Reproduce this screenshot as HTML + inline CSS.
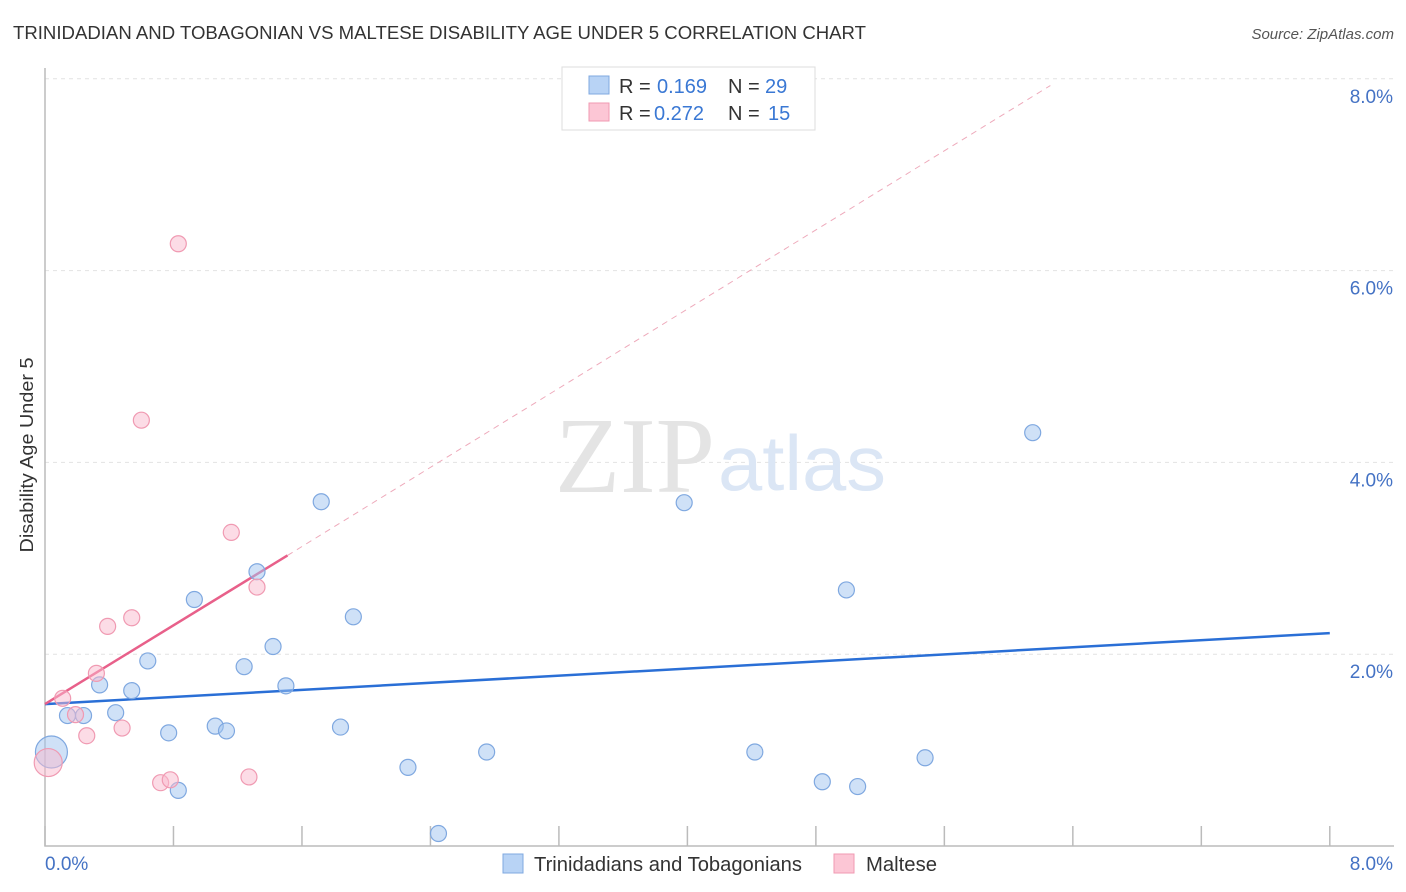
<!DOCTYPE html>
<html><head><meta charset="utf-8"><style>
body{margin:0;background:#fff;font-family:"Liberation Sans",sans-serif;}
svg{display:block}
</style></head><body>
<svg id="c" width="1406" height="892">
<text x="13" y="39" font-size="18" fill="#333" textLength="853" lengthAdjust="spacingAndGlyphs">TRINIDADIAN AND TOBAGONIAN VS MALTESE DISABILITY AGE UNDER 5 CORRELATION CHART</text>
<text x="1394" y="39" font-size="15" fill="#555" font-style="italic" text-anchor="end">Source: ZipAtlas.com</text>
<g id="grid"></g>
<text x="635" y="492" font-size="108" fill="#e4e4e4" text-anchor="middle" font-family="Liberation Serif,serif" textLength="160" lengthAdjust="spacingAndGlyphs">ZIP</text>
<text x="802" y="490" font-size="78" fill="#dbe6f5" text-anchor="middle" textLength="168" lengthAdjust="spacingAndGlyphs">atlas</text>
<g id="trend"></g>
<g id="pts"></g>
<text x="33" y="455" font-size="18" fill="#333" text-anchor="middle" textLength="195" lengthAdjust="spacingAndGlyphs" transform="rotate(-90 33 455)">Disability Age Under 5</text>
<text x="45" y="870" font-size="19" fill="#4472c4">0.0%</text>
<text x="1393" y="870" font-size="19" fill="#4472c4" text-anchor="end">8.0%</text>
<g>
<rect x="562" y="67" width="253" height="63" fill="#fff" stroke="#ddd"/>
<rect x="589" y="76" width="20" height="18" fill="#b8d3f5" stroke="#7fa8e0"/>
<rect x="589" y="103" width="20" height="18" fill="#fcc6d5" stroke="#f09ab2"/>
<text x="619" y="93" font-size="20" fill="#333">R = <tspan x="657" fill="#3a78d4">0.169</tspan></text>
<text x="728" y="93" font-size="20" fill="#333">N = <tspan x="765" fill="#3a78d4">29</tspan></text>
<text x="619" y="120" font-size="20" fill="#333">R = <tspan x="654" fill="#3a78d4">0.272</tspan></text>
<text x="728" y="120" font-size="20" fill="#333">N = <tspan x="768" fill="#3a78d4">15</tspan></text>
</g>
<g>
<rect x="503" y="854" width="20" height="19" fill="#b8d3f5" stroke="#7fa8e0"/>
<text x="534" y="871" font-size="20" fill="#333" textLength="268" lengthAdjust="spacingAndGlyphs">Trinidadians and Tobagonians</text>
<rect x="834" y="854" width="20" height="19" fill="#fcc6d5" stroke="#f09ab2"/>
<text x="866" y="871" font-size="20" fill="#333" textLength="71" lengthAdjust="spacingAndGlyphs">Maltese</text>
</g>
</svg>
<script>
const yTicks=[2,4,6,8];
const yTickLabels=["2.0%","4.0%","6.0%","8.0%"];
const xTicks=[0,0.8,1.6,2.4,3.2,4,4.8,5.6,6.4,7.2,8];
const blueX=[0.04,0.14,0.24,0.34,0.44,0.54,0.64,0.77,0.83,0.93,1.06,1.13,1.24,1.32,1.42,1.50,1.72,1.84,1.92,2.26,2.45,2.75,3.98,4.42,4.84,4.99,5.06,5.48,6.15];
const blueY=[0.98,1.36,1.36,1.68,1.39,1.62,1.93,1.18,0.58,2.57,1.25,1.20,1.87,2.86,2.08,1.67,3.59,1.24,2.39,0.82,0.13,0.98,3.58,0.98,0.67,2.67,0.62,0.92,4.31];
const pinkX=[0.02,0.11,0.19,0.26,0.32,0.39,0.48,0.54,0.60,0.72,0.78,0.83,1.16,1.27,1.32];
const pinkY=[0.87,1.54,1.37,1.15,1.80,2.29,1.23,2.38,4.44,0.66,0.69,6.28,3.27,0.72,2.70];
const blueTrend=[[0,1.48],[8,2.22]];
const pinkTrend=[[0,1.48],[1.51,3.03]];
const pinkDash=[[1.51,3.03],[6.26,7.93]];
const X=v=>45+v*160.6, Y=v=>846-v*95.9;
const NS="http://www.w3.org/2000/svg";
function mk(t,a,p){const e=document.createElementNS(NS,t);for(const k in a)e.setAttribute(k,a[k]);p.appendChild(e);return e;}
const grid=document.getElementById('grid');
yTicks.forEach((v,i)=>{
 const l=mk('line',{x1:45,x2:1394,y1:Y(v),y2:Y(v),stroke:'#e2e2e2','stroke-dasharray':'4,4'},grid);
 
 
 const t=mk('text',{x:1393,y:Y(v)+24,'font-size':19,fill:'#4472c4','text-anchor':'end'},grid);
 t.textContent=yTickLabels[i];
 
 
});
const ax=mk('path',{d:`M45 68V846H1394`,stroke:'#bbb',fill:'none','stroke-width':1.5},grid);


xTicks.forEach(v=>{
 const l=mk('line',{x1:X(v),x2:X(v),y1:826,y2:846,stroke:'#bbb','stroke-width':1.5},grid);
 
 
});
const tr=document.getElementById('trend');
let a=mk('line',{x1:X(blueTrend[0][0]),y1:Y(blueTrend[0][1]),x2:X(blueTrend[1][0]),y2:Y(blueTrend[1][1]),stroke:'#2a6fd6','stroke-width':2.5},tr);


a=mk('line',{x1:X(pinkDash[0][0]),y1:Y(pinkDash[0][1]),x2:X(pinkDash[1][0]),y2:Y(pinkDash[1][1]),stroke:'#eeaabb','stroke-width':1,'stroke-dasharray':'6,5'},tr);


a=mk('line',{x1:X(pinkTrend[0][0]),y1:Y(pinkTrend[0][1]),x2:X(pinkTrend[1][0]),y2:Y(pinkTrend[1][1]),stroke:'#e8608a','stroke-width':2.5},tr);


const pts=document.getElementById('pts');
blueX.forEach((x,i)=>{
 const c=mk('circle',{cx:X(x),cy:Y(blueY[i]),r:i===0?16:8,fill:'rgba(160,195,240,0.5)',stroke:'#7fa8e0','stroke-width':1.2},pts);
 
 
});
pinkX.forEach((x,i)=>{
 const c=mk('circle',{cx:X(x),cy:Y(pinkY[i]),r:i===0?14:8,fill:'rgba(250,185,205,0.5)',stroke:'#f09ab2','stroke-width':1.2},pts);
 
 
});
</script>
</body></html>
